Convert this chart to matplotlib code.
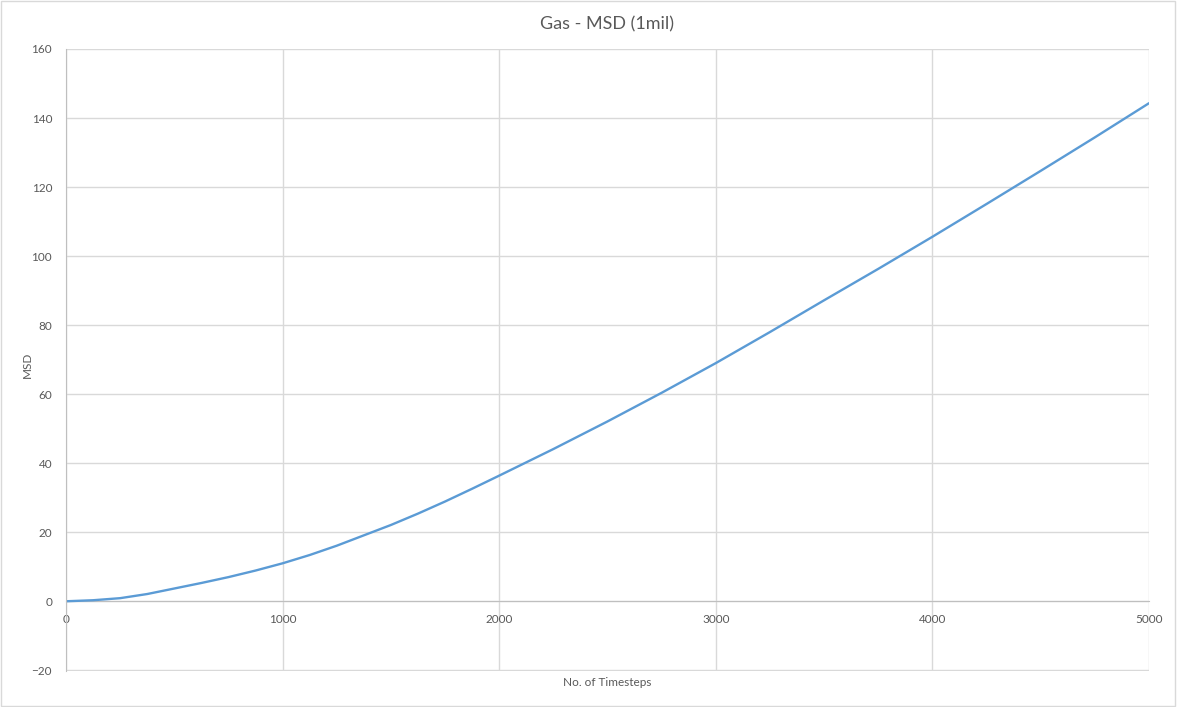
import matplotlib.pyplot as plt
import matplotlib.patches as patches

# values
timesteps = [0, 125, 250, 375, 500, 625, 750, 875, 1000, 1125, 1250, 1500,
             1625, 1750, 1875, 2000, 2250, 2500, 2750, 3000, 3250, 3500,
             3750, 4000, 4250, 4500, 4750, 5000]
msd = [0.0, 0.3, 0.9, 2.1, 3.7, 5.3, 7.0, 8.9, 11.0, 13.4, 16.1, 22.1,
       25.4, 28.9, 32.6, 36.4, 44.1, 52.1, 60.4, 69.0, 78.0, 87.2,
       96.3, 105.6, 115.1, 124.7, 134.4, 144.3]

x_ticks = [0, 1000, 2000, 3000, 4000, 5000]
y_ticks = [-20, 0, 20, 40, 60, 80, 100, 120, 140, 160]

plt.rcParams['font.family'] = ['Lato', 'DejaVu Sans']

fig = plt.figure(figsize=(11.77, 7.07), dpi=100)
ax = fig.add_axes([66 / 1177, 36 / 707, (1149 - 66) / 1177, (671 - 49) / 707])

ax.plot(timesteps, msd, color='#5b9bd5', linewidth=1.7,
        solid_capstyle='round', solid_joinstyle='round')

ax.set_xlim(0, 5000)
ax.set_ylim(-20.2, 160)
ax.set_xticks(x_ticks)
ax.set_yticks(y_ticks)
ax.grid(True, color='#d9d9d9', linewidth=1.0)
ax.set_axisbelow(True)

for s in ['top', 'right']:
    ax.spines[s].set_visible(False)
ax.spines['left'].set_color('#bfbfbf')
ax.spines['bottom'].set_color('#bfbfbf')
ax.spines['bottom'].set_position(('data', 0))
ax.spines['bottom'].set_zorder(1)

ax.tick_params(length=0, labelsize=8.5, labelcolor='#595959')
ax.tick_params(axis='x', pad=9)
ax.tick_params(axis='y', pad=10)

ax.set_title('Gas - MSD (1mil)', fontsize=13, color='#595959', pad=14)
fig.text(607 / 1177, 1 - 682 / 707, 'No. of Timesteps', fontsize=8.5,
         color='#595959', ha='center', va='center')
fig.text(27 / 1177, 1 - 365 / 707, 'MSD', fontsize=8.5, color='#595959',
         ha='center', va='center', rotation=90)

# outer chart border
fig.patches.append(patches.Rectangle((0.001, 0.001), 0.997, 0.997,
                                     transform=fig.transFigure, fill=False,
                                     edgecolor='#d9d9d9', linewidth=1.0))

plt.savefig('out.png', dpi=100)
plt.close()
